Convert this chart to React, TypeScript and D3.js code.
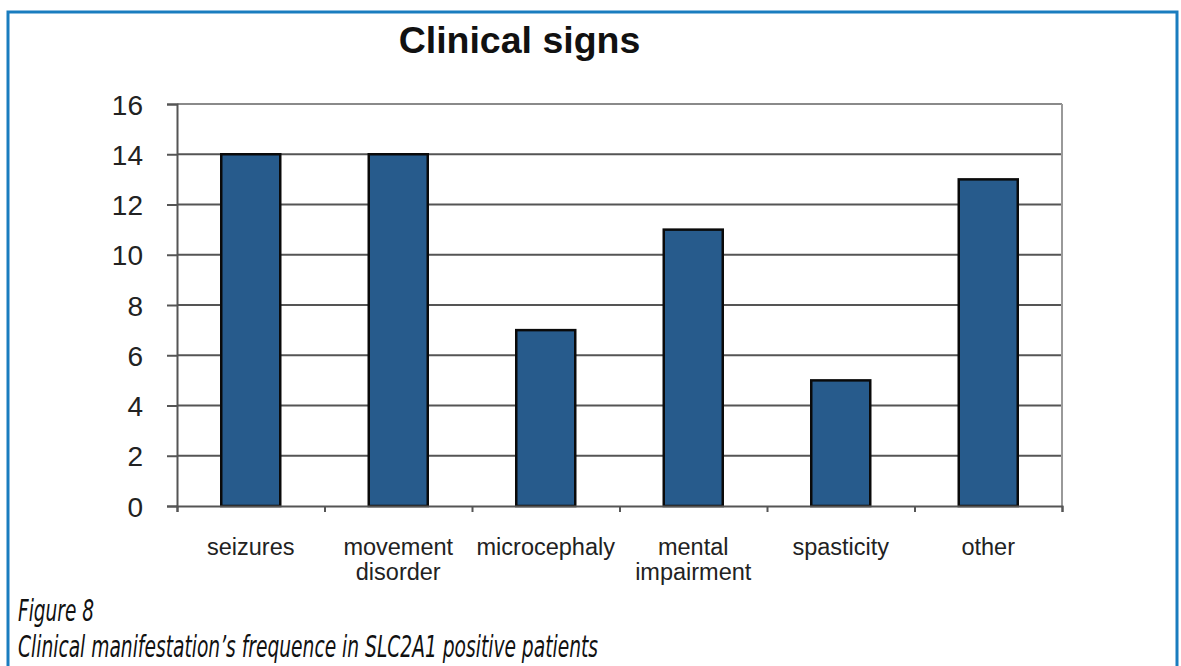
import React, { useEffect, useRef } from "react";
import * as d3 from "d3";

const categories: string[][] = [
  ["seizures"],
  ["movement", "disorder"],
  ["microcephaly"],
  ["mental", "impairment"],
  ["spasticity"],
  ["other"],
];
const values: number[] = [14, 14, 7, 11, 5, 13];
const yTicks: number[] = [0, 2, 4, 6, 8, 10, 12, 14, 16];
const title = "Clinical signs";
const figLabel = "Figure 8";
const caption = "Clinical manifestation\u2019s frequence in SLC2A1 positive patients";

const W = 1181;
const H = 666;

export default function App() {
  const ref = useRef<SVGSVGElement>(null);
  useEffect(() => {
    const svg = d3.select(ref.current);
    svg.selectAll("*").remove();

    const left = 177, right = 1062, top = 104, bottom = 506;
    const x = d3.scaleBand<number>().domain(categories.map((_, i) => i)).range([left, right]).padding(0);
    const y = d3.scaleLinear().domain([0, 16]).range([bottom, top]);

    // frame
    svg.append("path")
      .attr("d", `M8,${H + 2} L8,12 L1177,12 L1177,${H + 2}`)
      .attr("fill", "none")
      .attr("stroke", "#1a7dbf")
      .attr("stroke-width", 3);

    // title
    svg.append("text")
      .attr("x", 519.5).attr("y", 53)
      .attr("text-anchor", "middle")
      .attr("font-family", "'Liberation Sans', Arial, sans-serif")
      .attr("font-weight", "bold")
      .attr("font-size", 37.5)
      .attr("fill", "#111")
      .text(title);

    // gridlines
    const g = svg.append("g");
    g.selectAll("line.grid")
      .data(yTicks.filter((t) => t > 0))
      .join("line")
      .attr("x1", left).attr("x2", right)
      .attr("y1", (d) => y(d)).attr("y2", (d) => y(d))
      .attr("stroke", (d) => (d === 16 ? "#8a8a8a" : "#555"))
      .attr("stroke-width", 2);

    // right border
    g.append("line")
      .attr("x1", right).attr("x2", right)
      .attr("y1", top).attr("y2", bottom)
      .attr("stroke", "#999").attr("stroke-width", 2);

    // bars
    const bw = x.bandwidth() * 0.4;
    g.selectAll("rect.bar")
      .data(values)
      .join("rect")
      .attr("x", (_, i) => (x(i) as number) + x.bandwidth() / 2 - bw / 2)
      .attr("y", (d) => y(d))
      .attr("width", bw)
      .attr("height", (d) => bottom - y(d))
      .attr("fill", "#275b8c")
      .attr("stroke", "#0a0a0a")
      .attr("stroke-width", 2.5);

    // y axis
    const yAxis = svg.append("g")
      .attr("transform", `translate(${left},0)`)
      .call(d3.axisLeft(y).tickValues(yTicks).tickSize(10).tickPadding(24).tickFormat(d3.format("d")));
    yAxis.select(".domain").attr("stroke", "#555").attr("stroke-width", 2);
    yAxis.selectAll(".tick line").attr("stroke", "#555").attr("stroke-width", 2);
    yAxis.selectAll(".tick text")
      .attr("font-family", "'Liberation Sans', Arial, sans-serif")
      .attr("font-size", 28)
      .attr("fill", "#222")
      .attr("dy", "0.36em");

    // x axis
    const xAxisScale = d3.scaleLinear().domain([0, categories.length]).range([left, right]);
    const xAxis = svg.append("g")
      .attr("transform", `translate(0,${bottom})`)
      .call(d3.axisBottom(xAxisScale).tickValues(d3.range(categories.length + 1)).tickSize(6).tickFormat(() => ""));
    xAxis.select(".domain").attr("stroke", "#555").attr("stroke-width", 2);
    xAxis.selectAll(".tick line").attr("stroke", "#555").attr("stroke-width", 2);

    // category labels
    const labels = svg.append("g");
    categories.forEach((lines, i) => {
      const cx = (x(i) as number) + x.bandwidth() / 2;
      const t = labels.append("text")
        .attr("x", cx).attr("y", 555)
        .attr("text-anchor", "middle")
        .attr("font-family", "'Liberation Sans', Arial, sans-serif")
        .attr("font-size", 23.5)
        .attr("fill", "#222");
      lines.forEach((ln, j) => {
        t.append("tspan").attr("x", cx).attr("dy", j === 0 ? 0 : 25).text(ln);
      });
    });

    // caption
    const capFont = "'Liberation Sans Narrow', 'DejaVu Sans Condensed', 'Open Sans', sans-serif";
    svg.append("text")
      .attr("x", 18).attr("y", 621)
      .attr("font-family", capFont)
      .attr("font-style", "italic")
      .attr("font-size", 30)
      .attr("textLength", 76)
      .attr("lengthAdjust", "spacingAndGlyphs")
      .attr("fill", "#111")
      .text(figLabel);
    svg.append("text")
      .attr("x", 18).attr("y", 657)
      .attr("font-family", capFont)
      .attr("font-style", "italic")
      .attr("font-size", 31)
      .attr("textLength", 580)
      .attr("lengthAdjust", "spacingAndGlyphs")
      .attr("fill", "#111")
      .text(caption);
  }, []);

  return (
    <svg
      ref={ref}
      width={W}
      height={H}
      style={{ position: "absolute", left: 0, top: 0, background: "#fff" }}
    />
  );
}
